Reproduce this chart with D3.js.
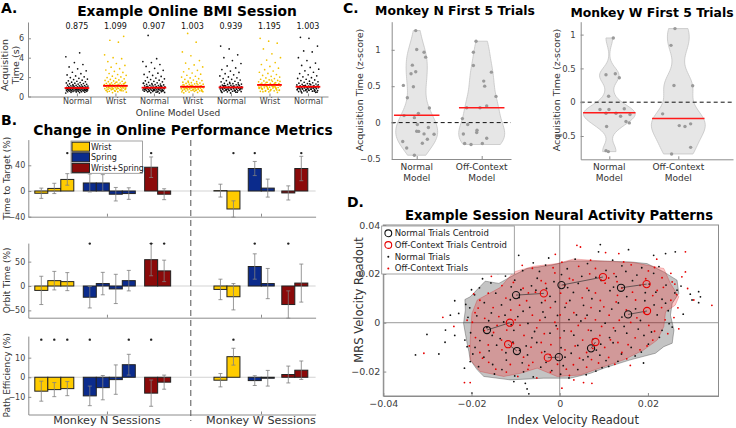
<!DOCTYPE html>
<html>
<head>
<meta charset="utf-8">
<title>Online BMI context figure</title>
<script src="https://cdn.jsdelivr.net/npm/d3@7"></script>
<style>
body { margin: 0; background: #fff; }
</style>
</head>
<body>
<script>
// ---------- Panel A: acquisition times per block ----------
var modelNames = ["Normal", "Wrist", "Normal", "Wrist", "Normal", "Wrist", "Normal"];
var medianTimes = [0.875, 1.099, 0.907, 1.003, 0.939, 1.195, 1.003];
var acqTicks = [0, 2, 4, 6];
var acq1 = [0.36,0.4,0.43,0.45,0.47,0.49,0.5,0.52,0.53,0.55,0.56,0.57,0.59,0.6,0.61,0.62,0.63,0.64,0.65,0.66,0.67,0.68,0.69,0.7,0.71,0.72,0.73,0.74,0.75,0.76,0.77,0.78,0.79,0.8,0.81,0.82,0.83,0.84,0.85,0.86,0.87,0.88,0.89,0.9,0.91,0.92,0.93,0.95,0.96,0.97,0.99,1.0,1.02,1.04,1.05,1.07,1.09,1.11,1.13,1.15,1.18,1.2,1.23,1.25,1.28,1.31,1.34,1.37,1.4,1.44,1.48,1.52,1.57,1.62,1.68,1.74,1.8,1.87,1.95,2.03,2.12,2.22,2.35,2.5,2.65,2.85,3.05,3.3,3.5,4.1,4.5,0.58,0.66,0.74,0.83,0.94,1.12,0.69,0.77,0.88];
var acq2 = [0.4,0.45,0.5,0.54,0.58,0.61,0.64,0.67,0.7,0.72,0.74,0.76,0.78,0.8,0.82,0.84,0.86,0.88,0.9,0.92,0.94,0.96,0.98,1.0,1.01,1.03,1.05,1.06,1.08,1.1,1.12,1.14,1.16,1.18,1.2,1.22,1.24,1.27,1.3,1.33,1.36,1.39,1.42,1.45,1.49,1.53,1.57,1.61,1.66,1.71,1.76,1.82,1.88,1.95,2.02,2.1,2.18,2.27,2.37,2.48,2.6,2.73,2.87,3.02,3.2,3.4,3.6,3.9,4.0,4.3,5.6,5.8,6.2,0.55,0.63,0.69,0.75,0.81,0.87,0.93,0.99,1.04,1.11,1.17,1.25,1.35,1.47,0.48,0.6,0.79];
var acq3 = [0.35,0.39,0.42,0.45,0.48,0.5,0.52,0.54,0.56,0.58,0.6,0.62,0.63,0.65,0.66,0.68,0.69,0.71,0.72,0.74,0.75,0.77,0.78,0.8,0.81,0.83,0.84,0.86,0.87,0.88,0.9,0.91,0.93,0.94,0.96,0.98,1.0,1.02,1.04,1.06,1.08,1.1,1.13,1.16,1.19,1.22,1.25,1.29,1.33,1.37,1.41,1.46,1.51,1.56,1.62,1.68,1.75,1.82,1.9,1.98,2.07,2.17,2.28,2.4,2.55,2.7,2.9,3.1,3.3,3.5,3.6,3.9,6.3,0.57,0.64,0.7,0.76,0.82,0.89,0.95,1.01,1.09,1.2,1.35,0.47,0.53,0.61,0.73,0.85,0.92];
var acq4 = [0.38,0.42,0.46,0.5,0.53,0.56,0.59,0.62,0.64,0.67,0.69,0.71,0.73,0.75,0.77,0.79,0.81,0.83,0.85,0.87,0.89,0.91,0.93,0.95,0.97,0.99,1.0,1.02,1.04,1.06,1.08,1.1,1.12,1.15,1.18,1.21,1.24,1.27,1.31,1.35,1.39,1.43,1.48,1.53,1.58,1.64,1.7,1.77,1.84,1.92,2.0,2.09,2.19,2.3,2.42,2.55,2.7,2.85,3.05,3.25,3.45,3.7,4.2,4.6,5.6,6.5,0.6,0.66,0.72,0.78,0.84,0.9,0.96,1.01,1.07,1.14,1.23,1.33,1.45,0.55,0.74,0.88,0.98,1.11,0.48,0.63,0.8];
var acq5 = [0.37,0.41,0.45,0.48,0.51,0.54,0.57,0.6,0.62,0.64,0.66,0.68,0.7,0.72,0.74,0.76,0.78,0.8,0.82,0.84,0.86,0.88,0.9,0.92,0.93,0.95,0.97,0.99,1.01,1.03,1.05,1.07,1.09,1.12,1.15,1.18,1.21,1.24,1.28,1.32,1.36,1.41,1.46,1.51,1.57,1.63,1.7,1.77,1.85,1.93,2.02,2.12,2.23,2.35,2.48,2.62,2.78,2.95,3.15,3.4,3.7,4.0,4.3,4.9,5.2,0.58,0.65,0.71,0.77,0.83,0.89,0.94,1.0,1.06,1.13,1.22,1.34,0.5,0.61,0.73,0.85,0.96,1.1,0.44,0.67,0.79,0.91];
var acq6 = [0.42,0.48,0.53,0.58,0.62,0.66,0.7,0.74,0.78,0.81,0.84,0.87,0.9,0.93,0.96,0.99,1.02,1.05,1.08,1.11,1.14,1.17,1.2,1.23,1.26,1.29,1.32,1.35,1.39,1.43,1.47,1.51,1.56,1.61,1.66,1.72,1.78,1.85,1.92,2.0,2.08,2.17,2.27,2.38,2.5,2.63,2.77,2.92,3.1,3.3,3.5,3.75,4.0,4.4,4.9,5.5,5.7,6.0,7.5,0.55,0.64,0.72,0.8,0.86,0.92,0.98,1.04,1.1,1.16,1.22,1.28,1.37,1.45,1.55,1.7,0.5,0.68,0.76,0.89,1.0,1.13,1.25,0.6,0.83,0.95,1.07,1.19];
var acq7 = [0.38,0.43,0.47,0.51,0.55,0.58,0.61,0.64,0.67,0.7,0.72,0.74,0.76,0.78,0.8,0.82,0.84,0.86,0.88,0.9,0.92,0.94,0.96,0.98,1.0,1.02,1.04,1.06,1.08,1.1,1.13,1.16,1.19,1.22,1.25,1.29,1.33,1.37,1.42,1.47,1.52,1.58,1.64,1.71,1.78,1.86,1.94,2.03,2.13,2.24,2.36,2.5,2.65,2.82,3.0,3.2,3.45,3.7,4.0,4.6,4.7,5.2,6.0,6.1,0.56,0.63,0.69,0.75,0.81,0.87,0.93,0.99,1.05,1.11,1.2,1.31,0.5,0.6,0.73,0.85,0.97,1.09,0.45,0.66,0.79,0.91];

// ---------- Panel B: % change per session (grouped Wrist / Spring / Wrist+Spring) ----------
var barModels = ["Wrist", "Spring", "Wrist+Spring"];
var ttN = [[-3.5, 4, 18], [12.5, 12.5, -5, -4], [37, -5]];
var ttNErr = [[8, 8, 9], [14, 13, 10.5, 9], [16, 8.5]];
var ttNSig = [[0, 0, 1], [0, 0, 0, 0], [1, 0]];
var ttW = [[0.6, -28], [35, 4.5], [-3, 35]];
var ttWErr = [[10, 12.7], [11, 14], [11, 19]];
var ttWSig = [[0, 1], [1, 0], [0, 1]];
var orbN = [[-9, 11, 9], [-23, 5, -6, 11], [54, 31]];
var orbNErr = [[29, 19, 18.5], [22, 23, 30, 21], [33, 22]];
var orbNSig = [[0, 0, 0], [1, 0, 0, 0], [1, 1]];
var orbW = [[-7, -22], [40, 5], [-38, 6]];
var orbWErr = [[21, 27], [26, 31], [28, 39]];
var orbWSig = [[0, 0], [1, 0], [1, 0]];
var peN = [[-7.1, -6.3, -5.8], [-9.5, -5.3, -1.2, 6.4], [-8.1, -2.5]];
var peNErr = [[5.1, 3.6, 3.6], [5, 6.2, 7.5, 5.3], [6.7, 3.6]];
var peNSig = [[1, 1, 1], [1, 0, 0, 1], [1, 0]];
var peW = [[-1.5, 10.5], [-1.7, -0.5], [1.4, 3.6]];
var peWErr = [[3.4, 4.3], [2.5, 4], [4.3, 4.7]];
var peWSig = [[0, 1], [0, 0], [0, 0]];
var metricLabels = ["Time to Target (%)", "Orbit Time (%)", "Path Efficiency (%)"];
var metricTicks = [[-40, 0, 40], [-50, 0, 50], [-10, 0, 10]];
var sessionLabels = ["Monkey N Sessions", "Monkey W Sessions"];

// ---------- Panel C: first-5-trial acquisition time (z-score), [jitter, value] ----------
var cNormalN = [[-0.015,1.264],[0,1.004],[0.113,0.967],[0.138,0.899],[-0.067,0.789],[-0.015,0.698],[-0.087,0.671],[-0.205,0.511],[-0.051,0.493],[-0.144,0.342],[0.195,0.2],[0.026,0.127],[-0.195,0.096],[-0.036,0.068],[0.01,-0.027],[0.18,-0.068],[0,-0.119],[0.03,-0.121],[0.267,-0.16],[0.113,-0.155],[0.164,-0.229],[-0.215,-0.26],[0.087,-0.284],[-0.154,-0.348],[-0.036,-0.448]];
var cOffN = [[-0.087,1.118],[-0.128,0.967],[-0.128,0.785],[0.149,0.693],[0.031,0.57],[0.046,0.501],[0.22,0.36],[-0.231,0.205],[-0.026,0.205],[0.077,0.227],[-0.297,0.055],[-0.215,-0.027],[-0.072,-0.105],[-0.077,-0.137],[-0.282,-0.156],[0.077,-0.215],[-0.262,-0.288],[-0.164,-0.301],[0.01,-0.288]];
var cNormalW = [[0.058,0.95],[-0.048,0.406],[0.087,0.42],[0.145,0.362],[-0.01,0.089],[-0.005,-0.107],[-0.135,-0.107],[0.217,-0.098],[-0.048,-0.163],[0.097,-0.163],[0.164,-0.208],[0.3,-0.182],[0.242,-0.286],[0.29,-0.306],[-0.039,-0.36],[-0.048,-0.717],[-0.014,-0.731]];
var cOffW = [[-0.048,1.089],[-0.106,0.841],[-0.063,0.248],[0.208,0.243],[-0.227,-0.172],[0.014,-0.346],[0.097,-0.36],[0.179,-0.32],[0.179,-0.668],[-0.097,-0.766]];
var cMeansN = [0.1, 0.205];
var cMeansW = [-0.157, -0.242];
var cTicks = [-0.5, 0, 0.5, 1];

// ---------- Panel D: neural readouts, in units of 1e-3 ----------
var normalTrials = [[-8.4,21.3],[-3.2,23.6],[1.7,22.1],[6.3,24.2],[10.5,21.4],[14.1,23.3],[18.6,22.5],[-12.3,19.1],[0.4,19.7],[8.2,18.6],[21.3,20.2],[-5.1,18.2],
  [-15.6,16.3],[-10.2,17.4],[-6.4,15.1],[-1.3,16.8],[4.2,16.1],[9.4,17.3],[12.2,14.6],[16.5,17.2],[20.3,15.8],[24.1,15.4],[-18.2,14.3],[6.6,13.2],
  [-19.3,11.4],[-14.5,12.1],[-9.2,10.3],[-5.4,13.3],[-2.2,10.8],[3.1,12.4],[7.3,9.8],[11.4,13.1],[15.2,10.7],[19.4,12.3],[23.2,9.6],[26.1,12.2],[-17.1,8.2],
  [-20.4,6.1],[-13.2,7.3],[-8.3,4.7],[-4.1,8.2],[1.2,6.3],[5.4,7.1],[9.1,4.8],[13.3,8.1],[17.2,5.7],[21.4,7.3],[24.6,4.9],[-11.2,9.4],[2.3,9.1],
  [-20.8,2.2],[-16.1,0.8],[-12.4,3.1],[-7.2,-0.3],[-3.3,2.2],[2.1,1.3],[6.2,3.1],[10.3,-0.2],[14.1,2.3],[18.3,0.9],[22.1,3.2],[24.8,-0.4],[-0.8,-1.2],
  [-20.2,-4.1],[-15.3,-5.2],[-10.4,-3.1],[-6.3,-6.2],[-2.2,-4.3],[3.2,-5.1],[7.1,-3.2],[11.3,-6.1],[15.2,-4.3],[19.1,-5.2],[23.2,-3.1],[-18.1,-7.3],
  [-19.2,-10.1],[-14.3,-9.2],[-9.1,-11.3],[-5.2,-8.1],[0.3,-10.2],[4.1,-9.3],[8.3,-11.2],[12.1,-8.2],[16.2,-10.1],[20.1,-8.8],[-12.2,-12.3],
  [-17.2,-14.1],[-12.1,-15.3],[-7.3,-13.2],[-3.1,-16.2],[1.2,-14.1],[5.3,-15.2],[9.1,-13.3],[13.2,-15.8],[17.1,-13.6],[-15.2,-17.1],
  [-13.1,-19.2],[-8.2,-20.1],[-4.3,-18.2],[0.2,-21.1],[4.1,-19.2],[8.2,-19.8],[11.1,-17.9],[-10.2,-21.8],[2.1,-22.6],
  [-17.5,18.0],[-14.0,20.2],[-6.0,24.5],[3.5,26.0],[12.0,25.6],[22.5,23.0],[-21.3,7.5],[-18.8,2.8],[-16.5,-2.0],[-13.5,-6.5],[-11.0,-0.8],[-9.5,2.5],
  [-6.8,6.3],[-3.8,4.4],[-0.5,3.0],[1.0,-3.3],[4.8,0.7],[7.5,-6.8],[11.8,5.6],[14.6,-1.5],[17.8,-2.6],[20.8,-3.8],[22.6,-6.0],[24.0,8.0],[25.5,-1.8],
  [-19.7,-12.8],[-16.0,-11.5],[-10.6,-8.0],[-7.6,-9.5],[-3.4,-11.8],[2.6,-12.5],[6.4,-13.9],[10.5,-15.5],[14.0,-12.8],[18.5,-12.0],[-18.4,-18.0],
  [-14.8,-21.0],[-6.0,-22.2],[-1.8,-19.6],[6.0,-21.3],[9.6,-18.4],[-8.8,13.5],[-3.0,14.0],[1.8,14.4],[5.0,19.0],[12.8,18.9],[17.5,19.5],[-11.0,14.7],
  [-4.6,21.0],[15.0,21.0],[19.3,9.0],[21.8,12.5],[-12.7,0.3],[-5.7,-3.6],[9.3,-8.8],[12.6,-3.3],[-1.0,8.6],[3.8,3.2],[-8.5,-16.4],[0.8,-17.6],
  [-15.5,4.0],[-20.0,13.5],[27.5,15.0],[-23.8,9.0],[-26.0,-8.0],[28.0,3.5],[19.0,-16.5],[-2.5,26.5],
  [-32.7,-13.2],[-30.1,-4.8],[-27.4,-12.8],[-25.9,-3.0],[-24.8,3.1],[-23.8,-5.2],[-21.5,-7.1],[-21.0,-9.8],[-20.3,-15.9],[-19.9,-28.8],
  [-10.4,-24.1],[-7.8,-24.8],[-7.4,-27.1],[-7.0,-29.1],[9.2,32.0],[8.8,29.0],[15.6,29.9],[21.3,27.6],[24.0,28.3],[26.2,29.0],
  [29.6,11.7],[31.5,12.7],[31.9,10.6],[31.5,8.2],[30.0,9.3],[26.6,13.3],[-9.3,27.6],[-22.9,3.8],[-21.6,-18.6]];
var offTrials = [[-6.2,22.3],[-1.1,20.4],[4.3,23.1],[8.1,22.2],[12.3,20.1],[16.2,23.7],[20.1,21.2],[-10.3,20.2],[2.2,18.1],[11.1,18.3],[23.2,18.4],[-3.2,16.1],
  [-13.1,15.2],[-8.3,14.1],[-4.2,17.2],[1.1,15.3],[6.2,14.1],[10.3,16.2],[14.1,14.2],[18.2,15.3],[22.1,13.2],[26.1,15.8],[-16.2,12.1],[8.1,12.2],
  [-18.1,9.2],[-12.2,10.1],[-7.1,12.2],[-3.3,9.1],[0.2,12.1],[5.1,10.2],[9.2,9.1],[13.1,11.2],[17.2,9.3],[21.1,11.1],[25.2,9.2],[26.8,6.1],[-15.1,6.2],
  [-19.2,4.1],[-11.1,5.2],[-6.2,3.1],[-2.1,6.2],[3.2,4.1],[7.1,6.2],[11.2,3.1],[15.1,5.2],[19.2,4.1],[23.1,6.2],[25.9,2.1],[-9.1,7.2],[0.1,3.2],
  [-19.8,0.2],[-14.2,-1.1],[-10.1,1.2],[-5.2,-2.1],[-1.1,0.2],[4.2,-1.1],[8.1,1.2],[12.2,-2.1],[16.1,0.1],[20.2,-1.1],[23.9,1.2],[-17.1,-3.2],
  [-19.1,-6.1],[-13.2,-7.1],[-8.1,-5.2],[-4.2,-8.1],[0.1,-6.2],[5.2,-7.1],[9.1,-5.2],[13.2,-8.1],[17.1,-6.2],[21.1,-7.1],[-16.2,-9.1],
  [-18.1,-12.2],[-13.1,-11.1],[-8.2,-14.1],[-4.1,-12.2],[1.2,-11.1],[6.1,-12.2],[10.2,-10.1],[14.1,-12.2],[18.2,-11.1],
  [-16.1,-16.2],[-11.2,-17.1],[-6.1,-16.2],[-2.2,-13.1],[3.1,-17.2],[7.2,-15.1],[11.1,-14.2],[15.2,-14.8],
  [-12.1,-20.2],[-7.2,-19.1],[-2.1,-20.2],[2.2,-21.6],[6.1,-18.2],[-5.2,-22.6],
  [-15.5,19.0],[-8.5,23.5],[0.5,24.8],[7.0,25.6],[14.5,24.9],[21.5,22.6],[25.2,20.2],[-19.5,11.8],[-17.0,1.8],[-15.0,-4.0],[-12.0,-3.0],[-9.0,-1.0],
  [-7.5,9.0],[-4.5,1.0],[1.5,8.0],[2.6,-3.5],[6.5,-3.0],[10.0,6.5],[13.5,1.0],[17.5,2.0],[21.5,-3.5],[24.5,-4.5],[26.5,11.5],[-20.5,-9.5],
  [-17.5,-14.5],[-10.5,-8.5],[-6.5,-10.0],[-2.0,-9.0],[3.5,-9.5],[7.5,-10.5],[11.5,-7.0],[15.5,-9.0],[19.8,-9.5],[-14.5,-19.0],[-9.5,-22.0],
  [-0.5,-17.0],[4.5,-14.5],[8.8,-16.5],[12.5,-17.0],[-10.5,16.5],[-5.5,12.5],[3.0,17.5],[6.8,20.0],[13.0,16.8],[19.5,18.0],[-1.5,22.5],
  [16.5,12.5],[23.5,14.5],[-13.8,2.5],[-3.5,-4.5],[9.5,-1.5],[12.8,8.5],[-0.5,-2.5],[5.8,1.8],[-7.0,-17.5],[1.5,-19.0],[-18.5,6.0],[-21.0,1.0],
  [29.0,14.0],[-24.0,-1.5],[27.0,-2.5],[16.0,-17.5],[-1.0,28.0],[22.0,26.0],
  [-30.8,-12.5],[-26.5,2.2],[-21.6,-24.5],[0.5,-26.8],[5.4,-24.5],[7.3,-24.8],[3.2,-23.4],[4.7,31.0],[3.9,31.7],[10.4,28.7],
  [13.4,28.3],[28.5,29.0],[27.7,18.8],[30.4,9.3],[34.5,7.1],[25.5,16.7],[28.5,20.8],[-20.3,-24.5]];
var normalCentroids = [[-9.9,11.3],[0.4,15.4],[13.9,14.3],[15.5,3.4],[-16.5,-3.0],[-9.7,-11.6],[-0.2,-14.1],[7.1,-10.5]];
var offCentroids = [[-3.6,12.0],[9.8,18.7],[19.7,15.8],[19.8,4.8],[-11.3,0.0],[-11.7,-8.8],[-2.7,-14.3],[8.1,-7.9]];
var normalHull = [[-21.5,9.5],[-20.3,10.6],[-16.9,17.0],[-13.8,16.1],[-10.4,19.5],[-7.4,22.2],[-2.1,23.5],[2.4,25.3],[8.5,25.3],[16.0,24.9],[19.8,24.2],[23.6,20.8],[26.6,17.4],[27.0,12.0],[25.5,7.9],[25.1,3.1],[25.9,-3.0],[25.5,-8.4],[23.6,-9.8],[21.7,-12.5],[16.0,-15.2],[10.0,-18.6],[7.0,-20.7],[2.4,-22.7],[-3.6,-22.7],[-11.2,-23.4],[-17.2,-22.0],[-18.7,-19.3],[-20.3,-15.2],[-20.6,-11.8],[-21.0,-8.4],[-21.4,-4.4],[-21.8,-0.3],[-21.4,5.2]];
var offHull = [[-19.9,3.8],[-18.7,9.3],[-13.5,14.4],[-10.4,20.8],[-5.9,23.1],[-0.6,24.2],[3.2,26.1],[10.0,25.2],[16.8,24.6],[23.6,22.2],[25.1,16.1],[27.0,10.6],[26.2,7.2],[24.0,4.5],[23.6,-1.6],[22.1,-7.1],[19.0,-11.2],[14.5,-15.2],[10.0,-18.0],[4.7,-21.4],[-0.6,-22.0],[-5.1,-18.6],[-8.9,-20.7],[-12.7,-22.0],[-18.0,-20.0],[-20.3,-15.2],[-20.3,-7.1]];
var dxTicks = [-0.04, -0.02, 0, 0.02];
var dyTicks = [-0.02, 0, 0.02, 0.04];

// ---------- drawing ----------
var FONT = "DejaVu Sans, Verdana, sans-serif";
var axisCol = "#8c8c8c", tickText = "#404040";
var yellow = "#ffcc00", blue = "#0b2b8c", darkRed = "#8b0a0a";
var barColors = [yellow, blue, darkRed];

var svg = d3.select("body").append("svg")
    .attr("width", 736)
    .attr("height", 428)
    .attr("font-family", FONT);

function styleAxis(sel, fs) {
    sel.attr("font-family", FONT).attr("font-size", fs);
    sel.select(".domain").attr("stroke", axisCol);
    sel.selectAll(".tick line").attr("stroke", axisCol);
    sel.selectAll(".tick text").attr("fill", tickText);
}
function text(x, y, str, size, opts) {
    opts = opts || {};
    return svg.append("text")
        .attr("x", x).attr("y", y)
        .attr("text-anchor", opts.anchor || "middle")
        .attr("font-size", size)
        .attr("font-weight", opts.bold ? "bold" : "normal")
        .attr("fill", opts.fill || "#000")
        .text(str);
}
function vtext(x, y, str, size) {
    return svg.append("text")
        .attr("transform", "translate(" + x + "," + y + ") rotate(-90)")
        .attr("text-anchor", "middle").attr("dy", "0.35em")
        .attr("font-size", size).attr("fill", "#333")
        .text(str);
}

// ===== A =====
text(1, 13, "A.", 14, {anchor: "start", bold: true});
text(187, 16, "Example Online BMI Session", 13.8, {bold: true});
var xA = d3.scaleLinear().domain([-0.27, 7.52]).range([28, 328]);
var yA = d3.scaleLinear().domain([0, 7.68]).range([96.5, 22]);
svg.append("g").attr("transform", "translate(0,96.5)")
    .call(d3.axisBottom(xA).tickValues(d3.range(1, 8)).tickFormat(function(d) { return modelNames[d - 1]; })
        .tickSize(-3).tickSizeOuter(0).tickPadding(2))
    .call(styleAxis, 8);
svg.append("g").attr("transform", "translate(28,0)")
    .call(d3.axisLeft(yA).tickValues(acqTicks).tickSize(-3).tickSizeOuter(0).tickPadding(4))
    .call(styleAxis, 8);
var acqGroups = [acq1, acq2, acq3, acq4, acq5, acq6, acq7];
acqGroups.forEach(function(vals, g) {
    var col = modelNames[g] === "Wrist" ? "#f2c200" : "#111";
    svg.append("g").selectAll("circle")
        .data(vals)
        .enter()
        .append("circle")
        .attr("cx", function(d, i) { return xA(g + 1 + ((((i * 0.618034 + g * 0.371) % 1) - 0.5) * 0.58)); })
        .attr("cy", function(d) { return yA(d); })
        .attr("r", 0.85)
        .attr("fill", col);
    svg.append("line")
        .attr("x1", xA(g + 1 - 0.32)).attr("x2", xA(g + 1 + 0.32))
        .attr("y1", yA(medianTimes[g])).attr("y2", yA(medianTimes[g]))
        .attr("stroke", "#ff0000").attr("stroke-width", 1.8);
    text(xA(g + 1), 29, d3.format(".3f")(medianTimes[g]), 8, {fill: "#111"});
});
text(178, 116, "Online Model Used", 9, {fill: "#333"});
vtext(5, 65, "Acquisition", 9.5);
vtext(15.5, 65, "Time (s)", 9.5);

// ===== B =====
text(1, 125, "B.", 14, {anchor: "start", bold: true});
text(183, 135, "Change in Online Performance Metrics", 13.8, {bold: true});
var xB = d3.scaleLinear().domain([0, 22.1]).range([28.3, 315.6]);
var groupStartN = [1, 4.73, 9.45];
var groupStartW = [14.78, 17.42, 20.0];
var yB = [
    d3.scaleLinear().domain([-40, 80]).range([216.7, 139.6]),
    d3.scaleLinear().domain([-65, 88]).range([317.7, 243.1]),
    d3.scaleLinear().domain([-19, 21]).range([414.5, 336.1])
];
var starLevel = [59, 87, 19.2];
var metricRows = [
    {n: ttN, nErr: ttNErr, nSig: ttNSig, w: ttW, wErr: ttWErr, wSig: ttWSig},
    {n: orbN, nErr: orbNErr, nSig: orbNSig, w: orbW, wErr: orbWErr, wSig: orbWSig},
    {n: peN, nErr: peNErr, nSig: peNSig, w: peW, wErr: peWErr, wSig: peWSig}
];
metricRows.forEach(function(row, m) {
    var ys = yB[m];
    var bars = [];
    [[row.n, row.nErr, row.nSig, groupStartN], [row.w, row.wErr, row.wSig, groupStartW]].forEach(function(set) {
        set[0].forEach(function(vals, k) {
            vals.forEach(function(v, i) {
                bars.push({slot: set[3][k] + i, v: v, e: set[1][k][i], sig: set[2][k][i], model: k});
            });
        });
    });
    var g = svg.append("g");
    g.append("line").attr("x1", xB(0)).attr("x2", xB(22.1)).attr("y1", ys(0)).attr("y2", ys(0))
        .attr("stroke", "#c8c8c8").attr("stroke-width", 0.8);
    g.selectAll("rect").data(bars).enter().append("rect")
        .attr("x", function(d) { return xB(d.slot - 0.5); })
        .attr("width", xB(1) - xB(0))
        .attr("y", function(d) { return ys(Math.max(d.v, 0)); })
        .attr("height", function(d) { return Math.abs(ys(d.v) - ys(0)); })
        .attr("fill", function(d) { return barColors[d.model]; })
        .attr("stroke", "#222").attr("stroke-width", 1);
    var eb = g.selectAll(".eb").data(bars).enter().append("g").attr("class", "eb")
        .attr("stroke", "#7f7f7f").attr("stroke-width", 0.8);
    eb.append("line").attr("x1", function(d) { return xB(d.slot); }).attr("x2", function(d) { return xB(d.slot); })
        .attr("y1", function(d) { return ys(d.v - d.e); }).attr("y2", function(d) { return ys(d.v + d.e); });
    eb.append("line").attr("x1", function(d) { return xB(d.slot) - 2; }).attr("x2", function(d) { return xB(d.slot) + 2; })
        .attr("y1", function(d) { return ys(d.v - d.e); }).attr("y2", function(d) { return ys(d.v - d.e); });
    eb.append("line").attr("x1", function(d) { return xB(d.slot) - 2; }).attr("x2", function(d) { return xB(d.slot) + 2; })
        .attr("y1", function(d) { return ys(d.v + d.e); }).attr("y2", function(d) { return ys(d.v + d.e); });
    g.selectAll(".star").data(bars.filter(function(d) { return d.sig; })).enter().append("circle")
        .attr("cx", function(d) { return xB(d.slot); }).attr("cy", ys(starLevel[m]))
        .attr("r", 1.2).attr("fill", "#222");
    svg.append("g").attr("transform", "translate(" + xB(0) + ",0)")
        .call(d3.axisLeft(ys).tickValues(metricTicks[m]).tickSize(-3).tickSizeOuter(0).tickPadding(3))
        .call(styleAxis, 8);
    svg.append("g").attr("transform", "translate(0," + ys.range()[0] + ")")
        .call(d3.axisBottom(xB).tickValues([6.05, 17.9]).tickFormat("").tickSize(-3).tickSizeOuter(0))
        .call(styleAxis, 8);
    vtext(7, (ys.range()[0] + ys.range()[1]) / 2, metricLabels[m], 9);
});
svg.append("line").attr("x1", xB(12.5)).attr("x2", xB(12.5)).attr("y1", 140).attr("y2", 421)
    .attr("stroke", "#555").attr("stroke-width", 1).attr("stroke-dasharray", "6,4");
text(xB(6.05), 424, sessionLabels[0], 11.2, {fill: "#333"});
text(xB(17.9), 424, sessionLabels[1], 11.2, {fill: "#333"});
// legend
var lgB = svg.append("g").attr("transform", "translate(71,141)");
lgB.append("rect").attr("width", 71.5).attr("height", 32.3).attr("fill", "#fff").attr("stroke", "#8c8c8c").attr("stroke-width", 0.8);
barModels.forEach(function(name, k) {
    lgB.append("rect").attr("x", 1).attr("y", 1.2 + k * 10.6).attr("width", 17.5).attr("height", 9)
        .attr("fill", barColors[k]).attr("stroke", "#222");
    lgB.append("text").attr("x", 20).attr("y", 8.8 + k * 10.6).attr("font-size", 8).attr("fill", "#222").text(name);
});

// ===== C =====
function kde(vals, bw, y) {
    return d3.mean(vals, function(v) { return Math.exp(-0.5 * Math.pow((y - v) / bw, 2)); });
}
function violinPanel(opt) {
    var x = d3.scaleLinear().domain([1, 2]).range(opt.xr);
    var y = d3.scaleLinear().domain([-0.5, 1]).range(opt.yr);
    var g = svg.append("g");
    [opt.a, opt.b].forEach(function(pts, k) {
        var vals = pts.map(function(p) { return p[1]; });
        var lo = d3.min(vals), hi = d3.max(vals);
        var shape = d3.range(0, 61).map(function(i) {
            var v = lo + (hi - lo) * i / 60;
            return {v: v, d: kde(vals, opt.bw[k], v)};
        });
        var dmax = d3.max(shape, function(s) { return s.d; });
        g.append("path").datum(shape)
            .attr("d", d3.area()
                .y(function(s) { return y(s.v); })
                .x0(function(s) { return x(k + 1) - s.d / dmax * opt.half[k]; })
                .x1(function(s) { return x(k + 1) + s.d / dmax * opt.half[k]; })
                .curve(d3.curveBasis))
            .attr("fill", "#e6e6e6").attr("stroke", "#c4c4c4").attr("stroke-width", 0.8);
    });
    g.append("line").attr("x1", opt.left).attr("x2", opt.right).attr("y1", y(0)).attr("y2", y(0))
        .attr("stroke", "#111").attr("stroke-width", 1).attr("stroke-dasharray", "4,3");
    [opt.a, opt.b].forEach(function(pts, k) {
        g.append("g").selectAll("circle").data(pts).enter().append("circle")
            .attr("cx", function(p) { return x(k + 1 + p[0]); })
            .attr("cy", function(p) { return y(p[1]); })
            .attr("r", 1.7).attr("fill", "#9a9a9a");
        g.append("line").attr("x1", x(k + 1 - opt.mw)).attr("x2", x(k + 1 + opt.mw))
            .attr("y1", y(opt.means[k])).attr("y2", y(opt.means[k]))
            .attr("stroke", "#ff1a1a").attr("stroke-width", 1.6);
    });
    var yAx = d3.scaleLinear().domain([y.invert(opt.bottom), y.invert(opt.top)]).range([opt.bottom, opt.top]);
    svg.append("g").attr("transform", "translate(" + opt.left + ",0)")
        .call(d3.axisLeft(yAx).tickValues(cTicks).tickSize(-3).tickSizeOuter(0).tickPadding(opt.pad).tickFormat(d3.format("")))
        .call(styleAxis, 8.5);
    var xAx = d3.scaleLinear().domain([x.invert(opt.left), x.invert(opt.right)]).range([opt.left, opt.right]);
    svg.append("g").attr("transform", "translate(0," + opt.bottom + ")")
        .call(d3.axisBottom(xAx).tickValues([1, 2]).tickFormat("").tickSize(-3).tickSizeOuter(0))
        .call(styleAxis, 8.5);
    [["Normal", "Model"], ["Off-Context", "Model"]].forEach(function(lines, k) {
        text(x(k + 1), 170, lines[0], 9, {fill: "#333"});
        text(x(k + 1), 181, lines[1], 9, {fill: "#333"});
    });
    text(opt.titleX, opt.titleY, opt.title, 12.4, {bold: true});
    vtext(opt.labelX, 90, "Acquisition Time (z-score)", 9.5);
}
text(343, 13, "C.", 14, {anchor: "start", bold: true});
violinPanel({a: cNormalN, b: cOffN, means: cMeansN, xr: [416.7, 481.7], yr: [159, 49.8],
    left: 391.7, right: 511, top: 21.7, bottom: 159, pad: 11, bw: [0.17, 0.17], half: [21, 23], mw: 0.35,
    title: "Monkey N First 5 Trials", titleX: 455, titleY: 15, labelX: 360});
violinPanel({a: cNormalW, b: cOffW, means: cMeansW, xr: [609.3, 678.3], yr: [136, 34.6],
    left: 580.7, right: 733, top: 21.7, bottom: 159.3, pad: 5, bw: [0.11, 0.2], half: [26, 27], mw: 0.38,
    title: "Monkey W First 5 Trials", titleX: 652, titleY: 17, labelX: 557});

// ===== D =====
text(347, 207, "D.", 14, {anchor: "start", bold: true});
text(559, 220, "Example Session Neural Activity Patterns", 13.2, {bold: true});
var xD = d3.scaleLinear().domain([-0.04, 0.036]).range([383.3, 718.5]);
var yD = d3.scaleLinear().domain([-0.03, 0.04]).range([396, 225]);
function px(p) { return xD(p[0] / 1000); }
function py(p) { return yD(p[1] / 1000); }
var gD = svg.append("g");
gD.append("line").attr("x1", xD(0)).attr("x2", xD(0)).attr("y1", yD(-0.03)).attr("y2", yD(0.04)).attr("stroke", "#9a9a9a");
gD.append("line").attr("x1", xD(-0.04)).attr("x2", xD(0.036)).attr("y1", yD(0)).attr("y2", yD(0)).attr("stroke", "#9a9a9a");
var hullLine = d3.line().x(px).y(py);
gD.append("path").attr("d", hullLine(normalHull) + "Z").attr("fill", "#000").attr("fill-opacity", 0.23)
    .attr("stroke", "#333").attr("stroke-opacity", 0.6).attr("stroke-width", 0.6);
gD.append("path").attr("d", hullLine(offHull) + "Z").attr("fill", "#ff0000").attr("fill-opacity", 0.22)
    .attr("stroke", "#c00").attr("stroke-opacity", 0.4).attr("stroke-width", 0.6);
gD.append("g").selectAll("circle").data(normalTrials).enter().append("circle")
    .attr("cx", px).attr("cy", py).attr("r", 0.9).attr("fill", "#111");
gD.append("g").selectAll("circle").data(offTrials).enter().append("circle")
    .attr("cx", px).attr("cy", py).attr("r", 0.9).attr("fill", "#e60000");
normalCentroids.forEach(function(c, i) {
    gD.append("line").attr("x1", px(c)).attr("y1", py(c)).attr("x2", px(offCentroids[i])).attr("y2", py(offCentroids[i]))
        .attr("stroke", "#333").attr("stroke-width", 0.7);
});
gD.append("g").selectAll("circle").data(normalCentroids).enter().append("circle")
    .attr("cx", px).attr("cy", py).attr("r", 3.6).attr("fill", "none").attr("stroke", "#111").attr("stroke-width", 1.1);
gD.append("g").selectAll("circle").data(offCentroids).enter().append("circle")
    .attr("cx", px).attr("cy", py).attr("r", 3.6).attr("fill", "none").attr("stroke", "#e60000").attr("stroke-width", 1.1);
svg.append("rect").attr("x", 383.3).attr("y", 225).attr("width", 718.5 - 383.3).attr("height", 171)
    .attr("fill", "none").attr("stroke", axisCol).attr("stroke-width", 1);
svg.append("g").attr("transform", "translate(0,396)")
    .call(d3.axisBottom(xD).tickValues(dxTicks).tickFormat(d3.format("")).tickSize(-3).tickSizeOuter(0).tickPadding(4))
    .call(styleAxis, 9.5);
svg.append("g").attr("transform", "translate(383.3,0)")
    .call(d3.axisLeft(yD).tickValues(dyTicks).tickFormat(d3.format("")).tickSize(-3).tickSizeOuter(0).tickPadding(3))
    .call(styleAxis, 9.5);
text(573, 424, "Index Velocity Readout", 11.5, {fill: "#333"});
vtext(359, 300, "MRS Velocity Readout", 11.5);
var lgD = svg.append("g").attr("transform", "translate(381.7,226)");
lgD.append("rect").attr("width", 132.6).attr("height", 48).attr("fill", "#fff").attr("stroke", "#8c8c8c").attr("stroke-width", 0.8);
var lgItems = [["Normal Trials Centroid", "#111", "ring"], ["Off-Context Trials Centroid", "#e60000", "ring"],
               ["Normal Trials", "#111", "dot"], ["Off-Context Trials", "#e60000", "dot"]];
lgItems.forEach(function(it, k) {
    var cy = 7.3 + k * 11.7;
    if (it[2] === "ring") {
        lgD.append("circle").attr("cx", 6.6).attr("cy", cy).attr("r", 3.4).attr("fill", "none").attr("stroke", it[1]).attr("stroke-width", 1.1);
    } else {
        lgD.append("circle").attr("cx", 6.6).attr("cy", cy).attr("r", 1).attr("fill", it[1]);
    }
    lgD.append("text").attr("x", 13).attr("y", cy + 3).attr("font-size", 8.5).attr("fill", "#222").text(it[0]);
});
</script>
</body>
</html>
